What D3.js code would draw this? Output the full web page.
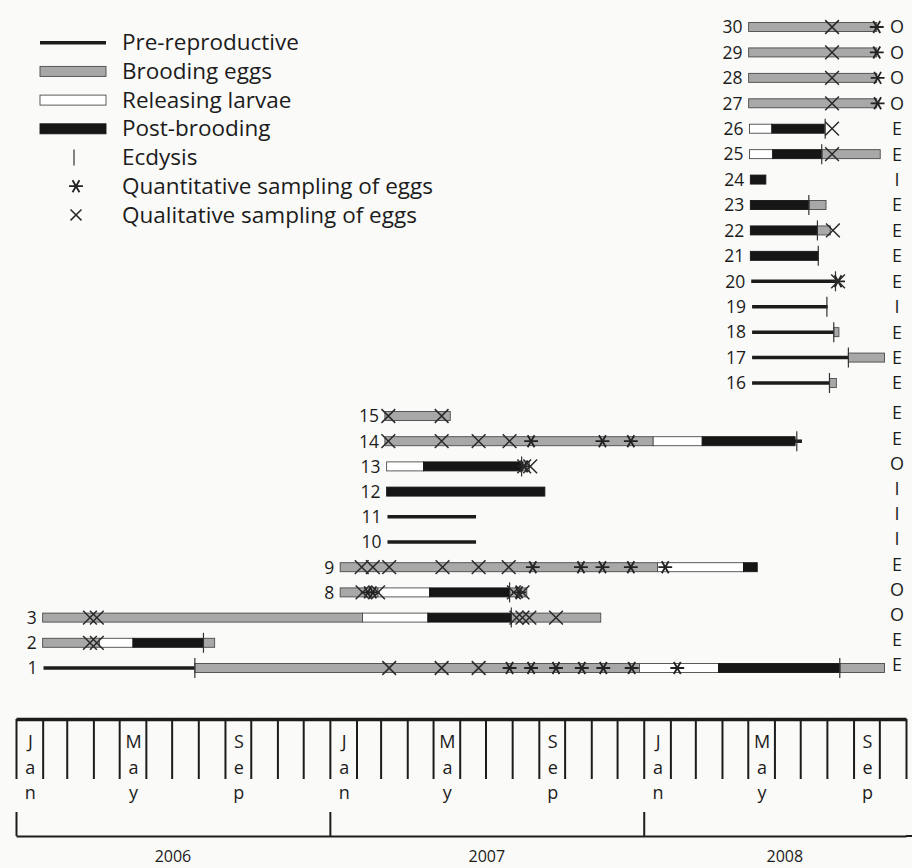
<!DOCTYPE html>
<html>
<head>
<meta charset="utf-8">
<script src="https://cdn.jsdelivr.net/npm/d3@7"></script>
<style>
  body { margin: 0; background: #fafaf8; }
  svg { display: block; font-family: "Open Sans", sans-serif; }
</style>
</head>
<body>
<svg id="chart" width="912" height="868"></svg>
<script>
// ---------------------------
// Data
// ---------------------------
const rowIds = ['30','29','28','27','26','25','24','23','22','21','20','19','18','17','16',
                '15','14','13','12','11','10','9','8','3','2','1'];
const rowStatus = ['O','O','O','O','E','E','I','E','E','E','E','I','E','E','E',
                   'E','E','O','I','I','I','E','O','O','E','E'];

// [row, start, end]
const preReproductive = [
  ['20','2008-05-05','2008-08-12'], ['19','2008-05-06','2008-08-02'],
  ['18','2008-05-06','2008-08-09'], ['17','2008-05-06','2008-08-26'],
  ['16','2008-05-06','2008-08-04'], ['14','2008-06-25','2008-07-03'],
  ['11','2007-03-09','2007-06-20'], ['10','2007-03-09','2007-06-20'],
  ['1','2006-02-02','2006-07-28']
];
const broodingEggs = [
  ['30','2008-05-02','2008-09-28'], ['29','2008-05-02','2008-09-28'],
  ['28','2008-05-02','2008-09-28'], ['27','2008-05-02','2008-09-28'],
  ['25','2008-07-26','2008-10-02'], ['23','2008-07-11','2008-07-31'],
  ['22','2008-07-21','2008-08-05'], ['18','2008-08-09','2008-08-15'],
  ['17','2008-08-26','2008-10-07'], ['16','2008-08-04','2008-08-12'],
  ['15','2007-03-06','2007-05-21'], ['14','2007-03-06','2008-01-12'],
  ['13','2007-08-12','2007-08-21'], ['9','2007-01-13','2008-01-17'],
  ['8','2007-01-13','2007-02-26'], ['8','2007-07-29','2007-08-18'],
  ['3','2006-02-01','2007-02-08'], ['3','2007-07-31','2007-11-12'],
  ['2','2006-02-01','2006-04-08'], ['2','2006-08-07','2006-08-20'],
  ['1','2006-07-28','2007-12-27'], ['1','2008-08-16','2008-10-07']
];
const releasingLarvae = [
  ['26','2008-05-03','2008-05-29'], ['25','2008-05-03','2008-05-30'],
  ['14','2008-01-12','2008-03-09'], ['13','2007-03-08','2007-04-20'],
  ['9','2008-01-17','2008-04-26'], ['8','2007-02-26','2007-04-27'],
  ['3','2007-02-08','2007-04-25'], ['2','2006-04-08','2006-05-17'],
  ['1','2007-12-27','2008-03-28']
];
const postBrooding = [
  ['26','2008-05-29','2008-07-29'], ['25','2008-05-30','2008-07-26'],
  ['24','2008-05-04','2008-05-22'], ['23','2008-05-04','2008-07-11'],
  ['22','2008-05-04','2008-07-21'], ['21','2008-05-04','2008-07-22'],
  ['14','2008-03-09','2008-06-25'], ['13','2007-04-20','2007-08-12'],
  ['12','2007-03-08','2007-09-08'], ['9','2008-04-26','2008-05-12'],
  ['8','2007-04-27','2007-07-29'], ['3','2007-04-25','2007-07-31'],
  ['2','2006-05-17','2006-08-07'], ['1','2008-03-28','2008-08-16']
];
// [row, date]
const ecdysis = [
  ['26','2008-07-30'], ['25','2008-07-26'], ['23','2008-07-11'], ['22','2008-07-21'],
  ['21','2008-07-22'], ['20','2008-08-11'], ['19','2008-08-01'], ['18','2008-08-09'],
  ['17','2008-08-26'], ['16','2008-08-04'], ['14','2008-06-27'], ['13','2007-08-12'],
  ['8','2007-07-29'], ['3','2007-07-31'], ['2','2006-08-07'], ['1','2006-07-28'],
  ['1','2008-08-16']
];
const quantitativeSampling = [
  ['30','2008-09-28'], ['29','2008-09-28'], ['28','2008-09-29'], ['27','2008-09-29'],
  ['20','2008-08-14'],
  ['14','2007-08-23'], ['14','2007-11-14'], ['14','2007-12-17'],
  ['13','2007-08-15'],
  ['9','2007-08-25'], ['9','2007-10-20'], ['9','2007-11-14'], ['9','2007-12-17'], ['9','2008-01-26'],
  ['8','2007-02-14'], ['8','2007-02-20'], ['8','2007-08-09'],
  ['1','2007-07-29'], ['1','2007-08-23'], ['1','2007-09-21'], ['1','2007-10-21'],
  ['1','2007-11-15'], ['1','2007-12-18'], ['1','2008-02-09']
];
const qualitativeSampling = [
  ['30','2008-08-07'], ['29','2008-08-07'], ['28','2008-08-07'], ['27','2008-08-07'],
  ['26','2008-08-07'], ['25','2008-08-07'], ['22','2008-08-08'], ['20','2008-08-14'],
  ['15','2007-03-10'], ['15','2007-05-11'],
  ['14','2007-03-10'], ['14','2007-05-11'], ['14','2007-06-23'], ['14','2007-07-29'],
  ['13','2007-08-15'], ['13','2007-08-22'],
  ['9','2007-02-07'], ['9','2007-02-20'], ['9','2007-03-11'], ['9','2007-05-12'],
  ['9','2007-06-23'], ['9','2007-07-28'],
  ['8','2007-02-08'], ['8','2007-02-26'], ['8','2007-08-03'], ['8','2007-08-13'],
  ['3','2006-03-28'], ['3','2006-04-05'], ['3','2007-08-06'], ['3','2007-08-13'],
  ['3','2007-08-21'], ['3','2007-09-21'],
  ['2','2006-03-28'], ['2','2006-04-05'],
  ['1','2007-03-11'], ['1','2007-05-11'], ['1','2007-06-23']
];

const monthNames = ['Jan','Feb','Mar','Apr','May','Jun','Jul','Aug','Sep','Oct','Nov','Dec'];
const labelledMonths = ['Jan','May','Sep'];
const years = ['2006','2007','2008'];
const legendLabels = ['Pre-reproductive','Brooding eggs','Releasing larvae','Post-brooding',
                      'Ecdysis','Quantitative sampling of eggs','Qualitative sampling of eggs'];

// ---------------------------
// Scales
// ---------------------------
const parse = d3.timeParse('%Y-%m-%d');
const svg = d3.select('#chart');

const x = d3.scaleTime()
  .domain([parse('2006-01-01'), parse('2008-11-01')])
  .range([16, 906]);

const upperRows = rowIds.slice(0, 15);
const lowerRows = rowIds.slice(15);
const yUpper = d3.scalePoint().domain(upperRows).range([27, 383]);
const yLower = d3.scalePoint().domain(lowerRows).range([416, 668]);
const y = id => upperRows.includes(id) ? yUpper(id) : yLower(id);

const ink = '#1c1c1c';
const barH = 9;
const barStyle = {
  brood: { fill: '#a8a8a8', stroke: '#4a4a4a' },
  release: { fill: '#ffffff', stroke: '#4a4a4a' },
  post: { fill: '#161616', stroke: '#161616' }
};

const timesPath = d3.symbol(d3.symbolTimes, 125)();
const asteriskPath = d3.symbol(d3.symbolAsterisk, 135)();

// ---------------------------
// Rows
// ---------------------------
const plot = svg.append('g');

plot.selectAll('line.pre')
  .data(preReproductive)
  .join('line')
  .attr('class', 'pre')
  .attr('x1', d => x(parse(d[1])))
  .attr('x2', d => x(parse(d[2])))
  .attr('y1', d => y(d[0]))
  .attr('y2', d => y(d[0]))
  .attr('stroke', ink)
  .attr('stroke-width', 3.5);

const bars = [
  ...broodingEggs.map(d => ({ row: d[0], s: d[1], e: d[2], kind: 'brood' })),
  ...releasingLarvae.map(d => ({ row: d[0], s: d[1], e: d[2], kind: 'release' })),
  ...postBrooding.map(d => ({ row: d[0], s: d[1], e: d[2], kind: 'post' }))
];

plot.selectAll('rect.phase')
  .data(bars)
  .join('rect')
  .attr('class', 'phase')
  .attr('x', d => x(parse(d.s)))
  .attr('width', d => x(parse(d.e)) - x(parse(d.s)))
  .attr('y', d => y(d.row) - barH / 2)
  .attr('height', barH)
  .attr('fill', d => barStyle[d.kind].fill)
  .attr('stroke', d => barStyle[d.kind].stroke)
  .attr('stroke-width', 0.9);

plot.selectAll('line.ecd')
  .data(ecdysis)
  .join('line')
  .attr('class', 'ecd')
  .attr('x1', d => x(parse(d[1])))
  .attr('x2', d => x(parse(d[1])))
  .attr('y1', d => y(d[0]) - 10)
  .attr('y2', d => y(d[0]) + 10)
  .attr('stroke', '#333')
  .attr('stroke-width', 1.2);

plot.selectAll('path.quant')
  .data(quantitativeSampling)
  .join('path')
  .attr('class', 'quant')
  .attr('d', asteriskPath)
  .attr('transform', d => `translate(${x(parse(d[1]))},${y(d[0])}) rotate(90)`)
  .attr('fill', 'none')
  .attr('stroke', '#222')
  .attr('stroke-width', 1.8);

plot.selectAll('path.qual')
  .data(qualitativeSampling)
  .join('path')
  .attr('class', 'qual')
  .attr('d', timesPath)
  .attr('transform', d => `translate(${x(parse(d[1]))},${y(d[0])})`)
  .attr('fill', 'none')
  .attr('stroke', '#2a2a2a')
  .attr('stroke-width', 1.5);

// row numbers, placed just left of each row's first mark
const allSpans = [...preReproductive, ...broodingEggs, ...releasingLarvae, ...postBrooding];
const rowStart = id => d3.min(allSpans.filter(d => d[0] === id), d => x(parse(d[1])));

plot.selectAll('text.rowlab')
  .data(rowIds)
  .join('text')
  .attr('class', 'rowlab')
  .attr('x', d => rowStart(d) - 6)
  .attr('y', d => y(d))
  .attr('dy', '0.36em')
  .attr('text-anchor', 'end')
  .attr('font-size', 17.5)
  .attr('fill', ink)
  .text(d => d);

plot.selectAll('text.status')
  .data(rowIds)
  .join('text')
  .attr('class', 'status')
  .attr('x', 897)
  .attr('y', d => y(d) - (upperRows.includes(d) ? 0 : 3))
  .attr('dy', '0.36em')
  .attr('text-anchor', 'middle')
  .attr('font-size', 18)
  .attr('fill', ink)
  .text((d, i) => rowStatus[i]);

// ---------------------------
// Month axis
// ---------------------------
const monthAxis = svg.append('g')
  .attr('transform', 'translate(0,719)')
  .call(d3.axisBottom(x)
    .ticks(d3.timeMonth.every(1))
    .tickSize(60)
    .tickSizeOuter(0)
    .tickFormat(''));
monthAxis.select('.domain').attr('stroke', ink).attr('stroke-width', 3.5);
monthAxis.selectAll('.tick line').attr('stroke', ink).attr('stroke-width', 2);

const months = d3.timeMonth.range(x.domain()[0], x.domain()[1])
  .filter(m => labelledMonths.includes(monthNames[m.getMonth()]));

const monthLabel = svg.append('g').selectAll('g')
  .data(months)
  .join('g')
  .attr('transform', m => `translate(${(x(m) + x(d3.timeMonth.offset(m, 1))) / 2 + 1},742)`);

monthLabel.selectAll('text')
  .data(m => monthNames[m.getMonth()].split(''))
  .join('text')
  .attr('y', (c, i) => i * 25.5)
  .attr('dy', '0.36em')
  .attr('text-anchor', 'middle')
  .attr('font-size', 18)
  .attr('fill', ink)
  .text(c => c);

// ---------------------------
// Year bracket
// ---------------------------
const yearAxis = svg.append('g')
  .attr('transform', 'translate(0,836)')
  .call(d3.axisBottom(x)
    .ticks(d3.timeYear.every(1))
    .tickSize(-24)
    .tickSizeOuter(0)
    .tickFormat(''));
yearAxis.select('.domain').attr('stroke', ink).attr('stroke-width', 2);
yearAxis.selectAll('.tick line').attr('stroke', ink).attr('stroke-width', 2);
yearAxis.append('line')
  .attr('x1', x.range()[1]).attr('x2', 912)
  .attr('stroke', ink).attr('stroke-width', 2);

svg.append('g').selectAll('text')
  .data(years)
  .join('text')
  .attr('x', d => {
    const s = parse(d + '-01-01');
    const e = d3.min([d3.timeYear.offset(s, 1), x.domain()[1]]);
    return (x(s) + x(e)) / 2 + (d === '2008' ? 10 : 0);
  })
  .attr('y', 856)
  .attr('dy', '0.36em')
  .attr('text-anchor', 'middle')
  .attr('font-size', 16)
  .attr('fill', ink)
  .text(d => d);

// ---------------------------
// Legend
// ---------------------------
const legend = svg.append('g');
const legY = i => 42.7 + i * 28.7;

legend.append('line')
  .attr('x1', 40).attr('x2', 106).attr('y1', legY(0)).attr('y2', legY(0))
  .attr('stroke', ink).attr('stroke-width', 3.5);

legend.selectAll('rect')
  .data(['brood', 'release', 'post'])
  .join('rect')
  .attr('x', 40)
  .attr('width', 66)
  .attr('y', (d, i) => legY(i + 1) - 5)
  .attr('height', 10)
  .attr('fill', d => barStyle[d].fill)
  .attr('stroke', d => barStyle[d].stroke)
  .attr('stroke-width', 0.9);

legend.append('line')
  .attr('x1', 74).attr('x2', 74).attr('y1', legY(4) - 8).attr('y2', legY(4) + 8)
  .attr('stroke', '#333').attr('stroke-width', 1.2);

legend.append('path')
  .attr('d', asteriskPath)
  .attr('transform', `translate(76,${legY(5)}) rotate(90)`)
  .attr('fill', 'none').attr('stroke', '#222').attr('stroke-width', 1.8);

legend.append('path')
  .attr('d', d3.symbol(d3.symbolTimes, 80)())
  .attr('transform', `translate(76,${legY(6)})`)
  .attr('fill', 'none').attr('stroke', '#2a2a2a').attr('stroke-width', 1.5);

legend.selectAll('text')
  .data(legendLabels)
  .join('text')
  .attr('x', 122)
  .attr('y', (d, i) => legY(i))
  .attr('dy', '0.34em')
  .attr('font-size', 22.5)
  .attr('fill', ink)
  .text(d => d);
</script>
</body>
</html>
